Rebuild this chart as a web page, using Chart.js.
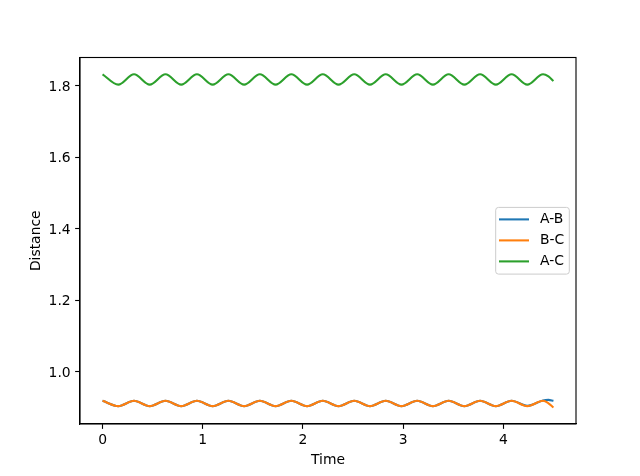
<!DOCTYPE html>
<html>
<head>
<meta charset="utf-8">
<script src="https://cdn.jsdelivr.net/npm/chart.js@4/dist/chart.umd.min.js"></script>
<style>
  body { margin: 0; background: #fff; }
  #dist { display: block; }
</style>
</head>
<body>
<canvas id="dist" width="640" height="476"></canvas>
<script>
// sample times (peaks / troughs of the oscillation, plus the tail)
const time = [0, 0.157, 0.314, 0.471, 0.628, 0.785, 0.942, 1.099, 1.256, 1.413,
              1.570, 1.727, 1.884, 2.041, 2.198, 2.355, 2.512, 2.669, 2.826, 2.983,
              3.140, 3.297, 3.454, 3.611, 3.768, 3.925, 4.082, 4.239, 4.396, 4.45, 4.5];

const distAB = [0.918, 0.903, 0.918, 0.903, 0.918, 0.903, 0.918, 0.903, 0.918, 0.903,
                0.918, 0.903, 0.918, 0.903, 0.918, 0.903, 0.918, 0.903, 0.918, 0.903,
                0.918, 0.903, 0.918, 0.903, 0.918, 0.903, 0.918, 0.904, 0.919, 0.9205, 0.918];

const distBC = [0.918, 0.903, 0.918, 0.903, 0.918, 0.903, 0.918, 0.903, 0.918, 0.903,
                0.918, 0.903, 0.918, 0.903, 0.918, 0.903, 0.918, 0.903, 0.918, 0.903,
                0.918, 0.903, 0.918, 0.903, 0.918, 0.903, 0.918, 0.903, 0.918, 0.911, 0.899];

const distAC = [1.832, 1.803, 1.832, 1.803, 1.832, 1.803, 1.832, 1.803, 1.832, 1.803,
                1.832, 1.803, 1.832, 1.803, 1.832, 1.803, 1.832, 1.803, 1.832, 1.803,
                1.832, 1.803, 1.832, 1.803, 1.832, 1.803, 1.832, 1.803, 1.832, 1.826, 1.813];

const labels = ['A-B', 'B-C', 'A-C'];
const colors = ['#1f77b4', '#ff7f0e', '#2ca02c'];
const xTicks = [0, 1, 2, 3, 4];
const yTicks = [1.0, 1.2, 1.4, 1.6, 1.8];

const FONT = 'DejaVu Sans';
const LW = 2.08;      // 1.5pt at 100 dpi
const SPINE = 1.11;   // 0.8pt
const TICK = 4.86;    // 3.5pt
const pts = vals => time.map((t, i) => ({x: t, y: vals[i]}));

// axes box on all four sides + matplotlib-like legend
const frameAndLegend = {
    id: 'frameAndLegend',
    afterDraw(chart) {
        const ctx = chart.ctx, a = chart.chartArea;
        ctx.save();
        ctx.strokeStyle = '#000';
        ctx.lineWidth = SPINE;
        ctx.strokeRect(a.left, a.top, a.right - a.left, a.bottom - a.top);

        const w = 73.6, h = 66.7;
        const x = a.right - 6.7 - w;
        const y = (a.top + a.bottom) / 2 - h / 2;
        ctx.beginPath();
        ctx.roundRect(x, y, w, h, 2.8);
        ctx.fillStyle = 'rgba(255,255,255,0.8)';
        ctx.fill();
        ctx.strokeStyle = '#cccccc';
        ctx.lineWidth = 1;
        ctx.stroke();

        ctx.font = '13.9px "' + FONT + '"';
        ctx.textBaseline = 'middle';
        ctx.textAlign = 'left';
        chart.data.datasets.forEach((ds, i) => {
            const yy = y + 12 + i * 21;
            ctx.beginPath();
            ctx.moveTo(x + 3.3, yy);
            ctx.lineTo(x + 33.3, yy);
            ctx.strokeStyle = ds.borderColor;
            ctx.lineWidth = LW;
            ctx.stroke();
            ctx.fillStyle = '#000';
            ctx.fillText(ds.label, x + 44.3, yy);
        });
        ctx.restore();
    }
};

const mkSet = (i, vals, order) => ({
    label: labels[i],
    data: pts(vals),
    borderColor: colors[i],
    borderWidth: LW,
    pointRadius: 0,
    fill: false,
    cubicInterpolationMode: 'monotone',
    order: order   // later series drawn on top, like matplotlib
});

const chart = new Chart(document.getElementById('dist').getContext('2d'), {
    type: 'line',
    data: {
        datasets: [
            mkSet(0, distAB, 3),
            mkSet(1, distBC, 2),
            mkSet(2, distAC, 1)
        ]
    },
    plugins: [frameAndLegend],
    options: {
        responsive: false,
        animation: false,
        layout: { padding: { left: 0, right: 64, top: 57.5, bottom: 0 } },
        plugins: { legend: { display: false }, tooltip: { enabled: false } },
        scales: {
            x: {
                type: 'linear',
                min: -0.225,
                max: 4.725,
                afterFit(s) { s.height = 52; },
                afterBuildTicks(s) { s.ticks = xTicks.map(v => ({value: v})); },
                grid: { drawOnChartArea: false, drawTicks: true, tickLength: TICK, tickWidth: SPINE, tickColor: '#000' },
                border: { display: true, color: '#000', width: SPINE },
                ticks: { color: '#000', padding: 3, maxRotation: 0, font: { family: FONT, size: 13.9 },
                         callback: v => String(v) },
                title: { display: true, text: 'Time', color: '#000',
                         font: { family: FONT, size: 13.9 }, padding: { top: 0, bottom: 7 } }
            },
            y: {
                type: 'linear',
                min: 0.853,
                max: 1.879,
                afterFit(s) { s.width = 80; },
                afterBuildTicks(s) { s.ticks = yTicks.map(v => ({value: v})); },
                grid: { drawOnChartArea: false, drawTicks: true, tickLength: TICK, tickWidth: SPINE, tickColor: '#000' },
                border: { display: true, color: '#000', width: SPINE },
                ticks: { color: '#000', padding: 4.5, labelOffset: 1.5, font: { family: FONT, size: 13.9 },
                         callback: v => v.toFixed(1) },
                title: { display: true, text: 'Distance', color: '#000',
                         font: { family: FONT, size: 13.9 }, padding: { top: 27.6, bottom: 0 } }
            }
        }
    }
});
</script>
</body>
</html>
